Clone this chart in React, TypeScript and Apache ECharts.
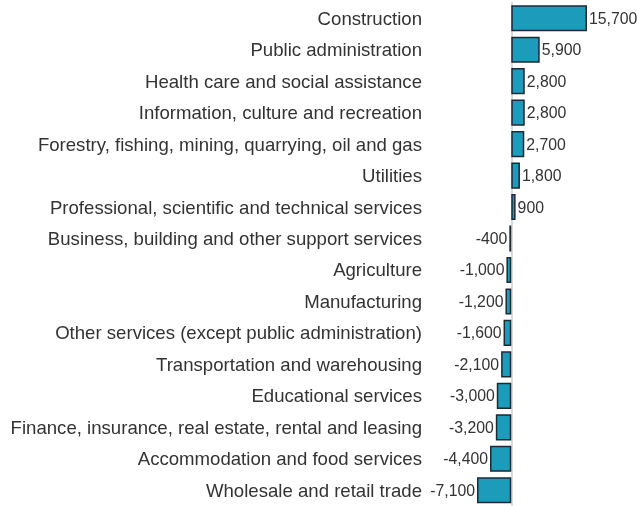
import React, { useEffect, useRef } from "react";
import * as echarts from "echarts";

const categories = [
  "Construction",
  "Public administration",
  "Health care and social assistance",
  "Information, culture and recreation",
  "Forestry, fishing, mining, quarrying, oil and gas",
  "Utilities",
  "Professional, scientific and technical services",
  "Business, building and other support services",
  "Agriculture",
  "Manufacturing",
  "Other services (except public administration)",
  "Transportation and warehousing",
  "Educational services",
  "Finance, insurance, real estate, rental and leasing",
  "Accommodation and food services",
  "Wholesale and retail trade",
];

const values = [
  15700, 5900, 2800, 2800, 2700, 1800, 900, -400, -1000, -1200, -1600, -2100,
  -3000, -3200, -4400, -7100,
];

const fmt = (v: number) => v.toLocaleString("en-US");

export default function App() {
  const ref = useRef<HTMLDivElement>(null);
  useEffect(() => {
    if (!ref.current) return;
    const chart = echarts.init(ref.current, undefined, { renderer: "svg" });
    chart.setOption({
      animation: false,
      grid: { left: 477, width: 110, top: 2.5, bottom: -1.5, containLabel: false },
      xAxis: {
        type: "value",
        min: -7100,
        max: 15700,
        show: false,
      },
      yAxis: {
        type: "category",
        inverse: true,
        data: categories,
        axisLine: { show: true, onZero: true, lineStyle: { color: "#dadada", width: 2 } },
        axisTick: { show: false },
        axisLabel: {
          margin: 55,
          fontSize: 18.6,
          color: "#333333",
          fontFamily: "Liberation Sans, Arial, sans-serif",
        },
      },
      series: [
        {
          type: "bar",
          data: values.map((v) => ({
            value: v,
            label: {
              show: true,
              position: v >= 0 ? "right" : "left",
              distance: 2,
              formatter: () => fmt(v),
            },
          })),
          barCategoryGap: "17%",
          itemStyle: { color: "#1d9bba", borderColor: "#1c2a33", borderWidth: 1.5 },
          label: {
            fontSize: 15.8,
            color: "#333333",
            fontFamily: "Liberation Sans, Arial, sans-serif",
          },
        },
      ],
    });
    return () => chart.dispose();
  }, []);
  return (
    <div
      ref={ref}
      style={{ position: "fixed", left: 0, top: 0, width: 637, height: 506 }}
    />
  );
}
